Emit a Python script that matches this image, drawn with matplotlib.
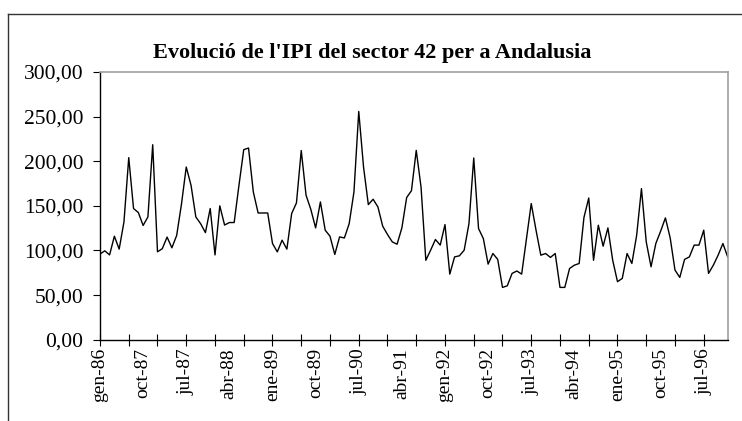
import matplotlib
matplotlib.use("Agg")
import matplotlib.pyplot as plt
from matplotlib.lines import Line2D

plt.rcParams['font.family'] = ['Liberation Serif', 'DejaVu Serif']

# IPI sector 42, Andalusia, monthly from gen-86
ipi = [96, 99.6, 95, 116, 101.5, 132, 204, 147, 142.5, 128, 137.6, 218.5,
       98.5, 102, 115, 103, 116.8, 151.8, 193.5, 173, 137.6, 130, 120, 147,
       95, 150, 128.5, 131.3, 131.3, 173, 213, 214.8, 165.5, 142, 142, 142,
       107.8, 98.4, 111.5, 101.5, 141.4, 153.3, 212, 162, 146, 125.3, 154.4, 122.7,
       116, 95.5, 115.2, 114, 130, 165.5, 255.8, 193.5, 151.4, 157.4, 148.8, 127.2,
       117.9, 109.6, 107, 125.3, 159.3, 167, 212.2, 171, 89, 100.3, 112.3, 106,
       129, 73.5, 92.8, 94, 100.3, 130, 203.6, 124.6, 113.4, 84.7, 96.6, 90,
       58.6, 60.4, 74.3, 77, 73.5, 113, 152.6, 122.7, 94.7, 96.6, 92.2, 96.6,
       58.6, 58.6, 79.8, 83.5, 85.4, 137, 158.8, 89, 128.3, 104.8, 125.3, 89,
       65, 68.7, 96.6, 85.4, 117, 169.3, 109.6, 81.7, 107.8, 121.6, 136.5, 114,
       78, 69.8, 90, 92.8, 106, 106, 122.7, 74.3, 83.5, 94.7, 107.8, 92.8]

x_labels = ["gen-86", "oct-87", "jul-87", "abr-88", "ene-89", "oct-89", "jul-90",
            "abr-91", "gen-92", "oct-92", "jul-93", "abr-94", "ene-95", "oct-95",
            "jul-96"]
y_ticks = [0, 50, 100, 150, 200, 250, 300]
y_labels = ["0,00", "50,00", "100,00", "150,00", "200,00", "250,00", "300,00"]

months = list(range(len(ipi)))

fig = plt.figure(figsize=(7.42, 4.21), dpi=100)
ax = fig.add_axes([100 / 742, 1 - 339.7 / 421, 627.7 / 742, 267.7 / 421])

ax.plot(months, ipi, color="black", linewidth=1.0)

ax.set_xlim(0, len(ipi) - 1)
ax.set_ylim(0, 300)

ax.set_yticks(y_ticks)
ax.set_yticklabels(y_labels, fontsize=15.5)
ax.tick_params(axis="y", direction="out", length=5, width=0.8, pad=7)

# labels every 9 months, tick marks every 6 months
ax.xaxis.remove_overlapping_locs = False
ax.set_xticks(months[::9])
ax.set_xticklabels(x_labels, rotation=90, fontsize=14)
ax.set_xticks(months[:127:6], minor=True)
ax.tick_params(axis="x", which="major", length=0, pad=6)
ax.tick_params(axis="x", which="minor", direction="inout", length=9, width=0.8)

for s in ["top", "right"]:
    ax.spines[s].set_color("#a0a0a0")
    ax.spines[s].set_linewidth(1.2)
for s in ["left", "bottom"]:
    ax.spines[s].set_linewidth(1.0)

fig.text(372 / 742, 1 - 53 / 421, "Evolució de l'IPI del sector 42 per a Andalusia",
         ha="center", va="center", fontsize=16, fontweight="bold")

# chart area frame (runs off the right and bottom edges)
fig.add_artist(Line2D([8 / 742, 8 / 742], [0, 1 - 13.5 / 421], color="#333333",
                      linewidth=1.0, transform=fig.transFigure))
fig.add_artist(Line2D([8 / 742, 1], [1 - 13.5 / 421, 1 - 13.5 / 421], color="#333333",
                      linewidth=1.0, transform=fig.transFigure))

fig.savefig("out.png", dpi=100)
